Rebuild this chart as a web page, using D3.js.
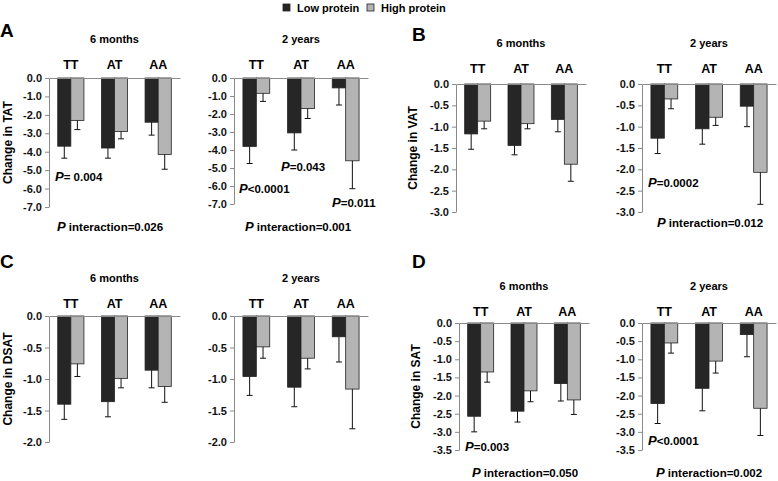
<!DOCTYPE html>
<html>
<head>
<meta charset="utf-8">
<script src="https://cdn.jsdelivr.net/npm/d3@7"></script>
<style>
  body { margin: 0; background: #fff; }
  svg { font-family: "Liberation Sans", Arial, sans-serif; font-weight: bold; }
</style>
</head>
<body>
<div id="chart"></div>
<script>
// genotype groups and diet series
const genotypes = ['TT', 'AT', 'AA'];
const series = ['Low protein', 'High protein'];

// A: TAT
const tat6mLow = [-3.7, -3.8, -2.4];
const tat6mLowSe = [0.65, 0.55, 0.7];
const tat6mHigh = [-2.3, -2.9, -4.15];
const tat6mHighSe = [0.5, 0.4, 0.8];
const tat2yLow = [-3.8, -3.05, -0.55];
const tat2yLowSe = [0.95, 0.95, 0.95];
const tat2yHigh = [-0.85, -1.7, -4.6];
const tat2yHighSe = [0.45, 0.55, 1.55];

// B: VAT
const vat6mLow = [-1.17, -1.44, -0.83];
const vat6mLowSe = [0.36, 0.22, 0.29];
const vat6mHigh = [-0.87, -0.93, -1.88];
const vat6mHighSe = [0.18, 0.12, 0.4];
const vat2yLow = [-1.27, -1.05, -0.52];
const vat2yLowSe = [0.36, 0.36, 0.48];
const vat2yHigh = [-0.35, -0.78, -2.07];
const vat2yHighSe = [0.23, 0.19, 0.75];

// C: DSAT
const dsat6mLow = [-1.4, -1.36, -0.86];
const dsat6mLowSe = [0.24, 0.24, 0.28];
const dsat6mHigh = [-0.76, -0.99, -1.12];
const dsat6mHighSe = [0.2, 0.15, 0.25];
const dsat2yLow = [-0.96, -1.13, -0.33];
const dsat2yLowSe = [0.3, 0.31, 0.4];
const dsat2yHigh = [-0.49, -0.67, -1.16];
const dsat2yHighSe = [0.18, 0.17, 0.63];

// D: SAT
const sat6mLow = [-2.57, -2.43, -1.67];
const sat6mLowSe = [0.43, 0.3, 0.48];
const sat6mHigh = [-1.35, -1.87, -2.12];
const sat6mHighSe = [0.28, 0.3, 0.4];
const sat2yLow = [-2.22, -1.8, -0.32];
const sat2yLowSe = [0.55, 0.62, 0.61];
const sat2yHigh = [-0.55, -1.05, -2.35];
const sat2yHighSe = [0.28, 0.33, 0.75];

// y tick values
const ticksTat = [0, -1, -2, -3, -4, -5, -6, -7];
const ticksVat = [0, -0.5, -1, -1.5, -2, -2.5, -3];
const ticksDsat = [0, -0.5, -1, -1.5, -2];
const ticksSat = [0, -0.5, -1, -1.5, -2, -2.5, -3, -3.5];

const W = 778, H = 481;
const colors = ['#262626', '#b4b4b4'];
const axisColor = '#8a8a8a';

const svg = d3.select('#chart').append('svg')
  .attr('width', W)
  .attr('height', H);

// layout of the 8 small panels
const panels = [
  { low: tat6mLow, lowSe: tat6mLowSe, high: tat6mHigh, highSe: tat6mHighSe, ticks: ticksTat,
    title: '6 months', x0: 49, x1: 180, y0: 78, y1: 207, titleY: 43, catPad: 9,
    letter: 'A', letterY: 37, ylab: 'Change in TAT', ylabX: 12,
    notes: [{ p: '= 0.004', x: 55, y: 181 }, { p: 'interaction=0.026', x: 57, y: 231 }] },
  { low: tat2yLow, lowSe: tat2yLowSe, high: tat2yHigh, highSe: tat2yHighSe, ticks: ticksTat,
    title: '2 years', x0: 234, x1: 368, y0: 78, y1: 204, titleY: 43, catPad: 9,
    notes: [{ p: '<0.0001', x: 239, y: 193 }, { p: '=0.043', x: 281, y: 171 },
            { p: '=0.011', x: 332, y: 207 }, { p: 'interaction=0.001', x: 245, y: 231 }] },
  { low: vat6mLow, lowSe: vat6mLowSe, high: vat6mHigh, highSe: vat6mHighSe, ticks: ticksVat,
    title: '6 months', x0: 456, x1: 586, y0: 84, y1: 212, titleY: 47, catPad: 11,
    letter: 'B', letterY: 41, letterX: 412, ylab: 'Change in VAT', ylabX: 417,
    notes: [] },
  { low: vat2yLow, lowSe: vat2yLowSe, high: vat2yHigh, highSe: vat2yHighSe, ticks: ticksVat,
    title: '2 years', x0: 642, x1: 776, y0: 84, y1: 212, titleY: 47, catPad: 11,
    notes: [{ p: '=0.0002', x: 648, y: 187 }, { p: 'interaction=0.012', x: 657, y: 227 }] },
  { low: dsat6mLow, lowSe: dsat6mLowSe, high: dsat6mHigh, highSe: dsat6mHighSe, ticks: ticksDsat,
    title: '6 months', x0: 49, x1: 180, y0: 316, y1: 442, titleY: 282, catPad: 8,
    letter: 'C', letterY: 268, ylab: 'Change in DSAT', ylabX: 12,
    notes: [] },
  { low: dsat2yLow, lowSe: dsat2yLowSe, high: dsat2yHigh, highSe: dsat2yHighSe, ticks: ticksDsat,
    title: '2 years', x0: 234, x1: 368, y0: 316, y1: 442, titleY: 282, catPad: 8,
    notes: [] },
  { low: sat6mLow, lowSe: sat6mLowSe, high: sat6mHigh, highSe: sat6mHighSe, ticks: ticksSat,
    title: '6 months', x0: 459, x1: 589, y0: 323, y1: 450, titleY: 290, catPad: 7,
    letter: 'D', letterY: 268, letterX: 412, ylab: 'Change in SAT', ylabX: 420,
    notes: [{ p: '=0.003', x: 465, y: 451 }, { p: 'interaction=0.050', x: 472, y: 477 }] },
  { low: sat2yLow, lowSe: sat2yLowSe, high: sat2yHigh, highSe: sat2yHighSe, ticks: ticksSat,
    title: '2 years', x0: 642, x1: 776, y0: 323, y1: 450, titleY: 290, catPad: 7,
    notes: [{ p: '<0.0001', x: 648, y: 445 }, { p: 'interaction=0.002', x: 656, y: 477 }] }
];

const fmt = d => d.toFixed(1);

panels.forEach(p => {
  const g = svg.append('g');
  const ext = d3.extent(p.ticks);
  const y = d3.scaleLinear().domain([ext[0], ext[1]]).range([p.y1, p.y0]);
  const x = d3.scaleBand().domain(genotypes).range([p.x0, p.x1]).paddingInner(0.4).paddingOuter(0.2);
  const xs = d3.scaleBand().domain(series).range([0, x.bandwidth()]);

  // y axis
  const ya = g.append('g')
    .attr('transform', `translate(${p.x0},0)`)
    .call(d3.axisLeft(y).tickValues(p.ticks).tickFormat(fmt).tickSize(4).tickSizeOuter(0).tickPadding(3));
  ya.select('.domain').attr('stroke', axisColor);
  ya.selectAll('.tick line').attr('stroke', axisColor);
  ya.selectAll('.tick text').attr('fill', '#111').style('font-size', '11px').style('font-weight', 'bold')
    .style('font-family', '"Liberation Sans", Arial, sans-serif');

  const rows = genotypes.map((k, i) => [
    { k, s: series[0], v: p.low[i], se: p.lowSe[i] },
    { k, s: series[1], v: p.high[i], se: p.highSe[i] }
  ]).flat();

  // bars
  g.selectAll('rect.bar').data(rows).enter().append('rect')
    .attr('class', 'bar')
    .attr('x', d => x(d.k) + xs(d.s))
    .attr('y', y(0))
    .attr('width', xs.bandwidth())
    .attr('height', d => y(d.v) - y(0))
    .attr('fill', (d, i) => colors[i % 2])
    .attr('stroke', '#222')
    .attr('stroke-width', 0.8);

  // error bars
  const eb = g.selectAll('g.err').data(rows).enter().append('g').attr('class', 'err');
  eb.append('line')
    .attr('x1', d => x(d.k) + xs(d.s) + xs.bandwidth() / 2)
    .attr('x2', d => x(d.k) + xs(d.s) + xs.bandwidth() / 2)
    .attr('y1', d => y(d.v))
    .attr('y2', d => y(d.v - d.se))
    .attr('stroke', '#111');
  eb.append('line')
    .attr('x1', d => x(d.k) + xs(d.s) + xs.bandwidth() / 2 - 3)
    .attr('x2', d => x(d.k) + xs(d.s) + xs.bandwidth() / 2 + 3)
    .attr('y1', d => y(d.v - d.se))
    .attr('y2', d => y(d.v - d.se))
    .attr('stroke', '#111');

  // category axis on top (zero line)
  const xa = g.append('g')
    .attr('transform', `translate(0,${y(0)})`)
    .call(d3.axisTop(x).tickSize(0).tickSizeOuter(0).tickPadding(p.catPad));
  xa.select('.domain').attr('stroke', axisColor);
  xa.selectAll('.tick text').attr('fill', '#000').style('font-size', '12.5px').style('font-weight', 'bold')
    .style('font-family', '"Liberation Sans", Arial, sans-serif');

  // period title
  g.append('text')
    .attr('x', (p.x0 + p.x1) / 2)
    .attr('y', p.titleY)
    .attr('text-anchor', 'middle')
    .style('font-size', '11px')
    .text(p.title);

  if (p.letter) {
    g.append('text')
      .attr('x', p.letterX || 0)
      .attr('y', p.letterY)
      .style('font-size', '19px')
      .text(p.letter);
  }
  if (p.ylab) {
    g.append('text')
      .attr('transform', `translate(${p.ylabX},${(p.y0 + p.y1) / 2}) rotate(-90)`)
      .attr('text-anchor', 'middle')
      .style('font-size', '12px')
      .text(p.ylab);
  }

  p.notes.forEach(n => {
    const t = g.append('text').attr('x', n.x).attr('y', n.y).style('font-size', '11.5px');
    t.append('tspan').style('font-style', 'italic').style('font-size', '13px').text('P');
    t.append('tspan').text(n.p.startsWith('interaction') ? ' ' + n.p : n.p);
  });
});

// legend
const legend = svg.append('g').attr('transform', 'translate(283,3)');
legend.selectAll('g').data(series).enter().append('g')
  .attr('transform', (d, i) => `translate(${i * 84},0)`)
  .each(function (d, i) {
    const lg = d3.select(this);
    lg.append('rect').attr('width', 7).attr('height', 7).attr('y', 1)
      .attr('fill', colors[i]).attr('stroke', '#222').attr('stroke-width', 0.8);
    lg.append('text').attr('x', 14).attr('y', 9).style('font-size', '11px').text(d);
  });
</script>
</body>
</html>
